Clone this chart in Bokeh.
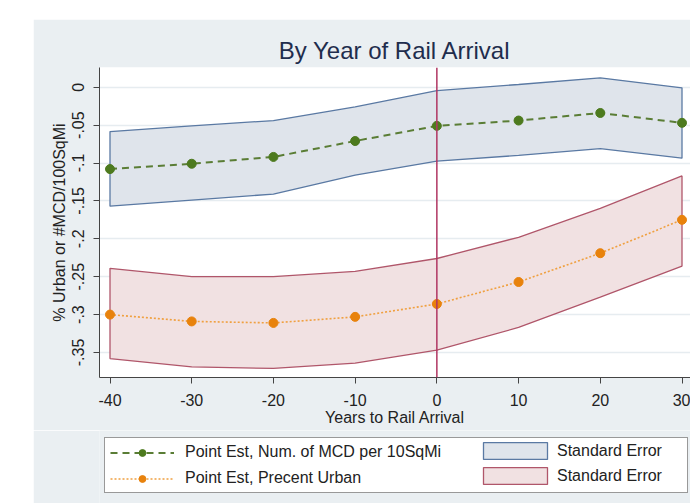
from bokeh.plotting import figure
from bokeh.layouts import column
from bokeh.models import (Legend, LegendItem, Span, FixedTicker, Range1d)
from bokeh.embed import file_html
from bokeh.resources import INLINE

# ---- data ----
years = [-40, -30, -20, -10, 0, 10, 20, 30]
mcd_est = [-0.108, -0.101, -0.092, -0.071, -0.051, -0.044, -0.034, -0.047]
mcd_upper = [-0.0585, -0.051, -0.044, -0.026, -0.0044, 0.0036, 0.0124, -0.0008]
mcd_lower = [-0.157, -0.149, -0.141, -0.116, -0.0976, -0.090, -0.081, -0.0936]
urban_est = [-0.300, -0.309, -0.311, -0.303, -0.286, -0.257, -0.219, -0.175]
urban_upper = [-0.239, -0.250, -0.250, -0.243, -0.226, -0.198, -0.160, -0.117]
urban_lower = [-0.358, -0.369, -0.371, -0.364, -0.347, -0.317, -0.277, -0.236]
x_ticks = [-40, -30, -20, -10, 0, 10, 20, 30]
x_tick_labels = ["-40", "-30", "-20", "-10", "0", "10", "20", "30"]
y_ticks = [0, -0.05, -0.1, -0.15, -0.2, -0.25, -0.3, -0.35]
y_tick_labels = ["0", "-.05", "-.1", "-.15", "-.2", "-.25", "-.3", "-.35"]
legend_labels = ["Point Est, Num. of MCD per 10SqMi", "Point Est, Precent Urban",
                 "Standard Error", "Standard Error"]

FONT = "Liberation Sans"
BG = "#eaeff2"
W = 657

# styles
G_LINE = dict(line_color="#5a7d35", line_width=2, line_dash="7 5")
G_PTS = dict(size=9, fill_color="#4d7a1e", line_color="#4d7a1e")
O_LINE = dict(line_color="#f0a040", line_width=1.6, line_dash="2 2")
O_PTS = dict(size=9, fill_color="#e8820c", line_color="#e8820c")
B_BAND = dict(fill_color="#dfe4eb", line_color="#5a79a3", line_width=1.3)
R_BAND = dict(fill_color="#f1e1e2", line_color="#b0566a", line_width=1.3)

bx = years + years[::-1]
mcd_band = mcd_upper + mcd_lower[::-1]
urban_band = urban_upper + urban_lower[::-1]

p = figure(width=W, height=411, output_backend="svg", toolbar_location=None,
           x_range=Range1d(-41.285, 31.04), y_range=Range1d(-0.383, 0.026),
           title="By Year of Rail Arrival",
           min_border_left=66, min_border_top=48, min_border_bottom=53,
           min_border_right=0)
p.border_fill_color = BG
p.background_fill_color = "white"
p.outline_line_color = None

p.title.text_font = FONT
p.title.text_font_size = "24px"
p.title.text_font_style = "normal"
p.title.text_color = "#1f2d4d"
p.title.align = "center"
p.title.standoff = 8

for ax in (p.xaxis[0], p.yaxis[0]):
    ax.axis_line_color = "#444444"
    ax.major_tick_line_color = "#444444"
    ax.major_tick_out = 6
    ax.major_tick_in = 0
    ax.minor_tick_line_color = None
    ax.major_label_text_font = FONT
    ax.major_label_text_font_size = "16px"
    ax.major_label_text_color = "#222222"
    ax.axis_label_text_font = FONT
    ax.axis_label_text_font_size = "16px"
    ax.axis_label_text_font_style = "normal"
    ax.axis_label_text_color = "#222222"

p.xaxis.ticker = FixedTicker(ticks=x_ticks)
p.xaxis.major_label_overrides = {t: l for t, l in zip(x_ticks, x_tick_labels)}
p.xaxis.axis_label = "Years to Rail Arrival"
p.xaxis.major_label_standoff = 10
p.xaxis.axis_label_standoff = 0

p.yaxis.ticker = FixedTicker(ticks=y_ticks)
p.yaxis.major_label_overrides = {t: l for t, l in zip(y_ticks, y_tick_labels)}
p.yaxis.major_label_orientation = "vertical"
p.yaxis.axis_label = "% Urban or #MCD/100SqMi"
p.yaxis.major_label_standoff = 9
p.yaxis.axis_label_standoff = 2

p.xgrid.grid_line_color = None
p.ygrid.grid_line_color = "#e6ecf0"
p.ygrid.grid_line_width = 1.5

p.patch(bx, mcd_band, **B_BAND)
p.patch(bx, urban_band, **R_BAND)

p.add_layout(Span(location=0, dimension="height", line_color="#b03562",
                  line_width=1.5))

p.line(years, mcd_est, **G_LINE)
p.scatter(years, mcd_est, **G_PTS)
p.line(years, urban_est, **O_LINE)
p.scatter(years, urban_est, **O_PTS)

# ---- legend strip below the chart (data renderers kept out of view) ----
q = figure(width=W, height=73, output_backend="svg", toolbar_location=None,
           x_axis_type=None, y_axis_type=None, min_border=0,
           min_border_left=66,
           x_range=Range1d(0, 1), y_range=Range1d(0.5, 1))
q.border_fill_color = BG
q.background_fill_color = BG
q.outline_line_color = None
q.grid.visible = False

lg1 = q.line(years, mcd_est, **G_LINE)
lp1 = q.scatter(years, mcd_est, **G_PTS)
lg2 = q.line(years, urban_est, **O_LINE)
lp2 = q.scatter(years, urban_est, **O_PTS)
lb = q.patch(bx, mcd_band, **B_BAND)
lr = q.patch(bx, urban_band, **R_BAND)


def style(lgd):
    lgd.label_text_font = FONT
    lgd.label_text_font_size = "16px"
    lgd.label_text_color = "#222222"
    lgd.margin = 0


leg_a = Legend(items=[LegendItem(label=legend_labels[0], renderers=[lg1, lp1]),
                      LegendItem(label=legend_labels[1], renderers=[lg2, lp2])],
               location=(5, 10))
style(leg_a)
leg_a.padding = 5
leg_a.glyph_width = 64
leg_a.glyph_height = 17
leg_a.spacing = 8
leg_a.label_standoff = 11
leg_a.label_width = 497
leg_a.border_line_color = "#333333"
leg_a.border_line_width = 1
leg_a.background_fill_color = "white"
leg_a.background_fill_alpha = 1

leg_b = Legend(items=[LegendItem(label=legend_labels[2], renderers=[lb]),
                      LegendItem(label=legend_labels[3], renderers=[lr])],
               location=(376, 17))
style(leg_b)
leg_b.padding = 6
leg_b.glyph_width = 80
leg_b.glyph_height = 21
leg_b.spacing = 4
leg_b.label_standoff = 2
leg_b.border_line_color = None
leg_b.background_fill_alpha = 0

q.add_layout(leg_a, "center")
q.add_layout(leg_b, "center")

layout = column(p, q, spacing=0)
layout.margin = (19, 0, 0, 33)

open("out.html", "w").write(file_html(layout, INLINE))
